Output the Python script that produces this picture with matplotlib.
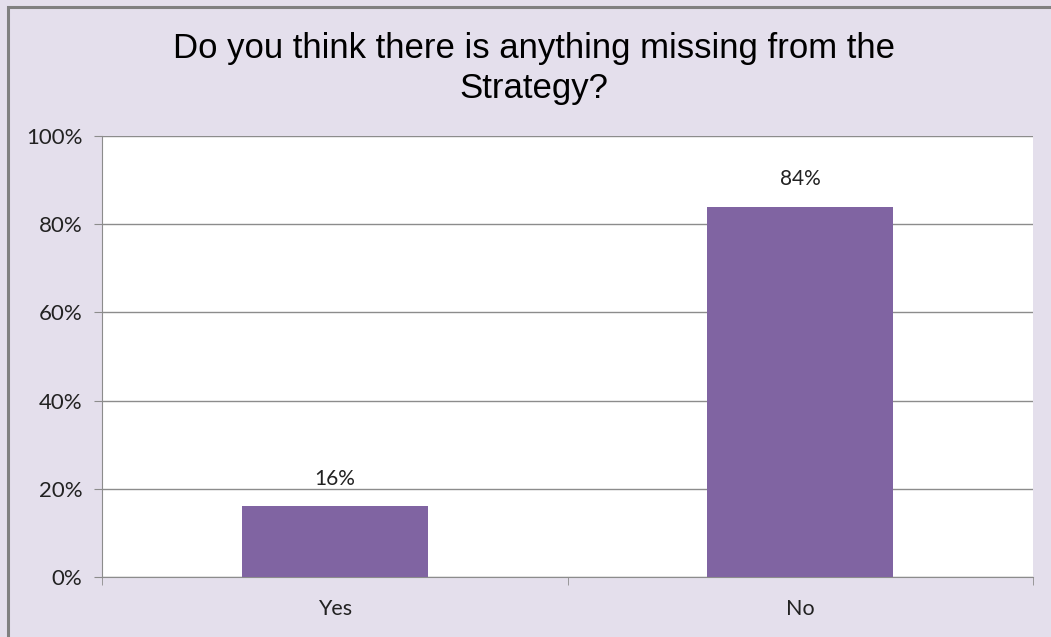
import matplotlib
matplotlib.use("Agg")
import matplotlib.pyplot as plt
from matplotlib.patches import Rectangle

categories = ["Yes", "No"]
values = [16, 84]
labels = ["16%", "84%"]
yticks = [0, 20, 40, 60, 80, 100]

bg = "#E4DFEC"
bar_color = "#8064A2"
grid_color = "#8C8C8C"

fig = plt.figure(figsize=(10.51, 6.37), dpi=100, facecolor=bg)
# border at top/left of the chart area
fig.add_artist(Rectangle((7.5 / 1051, -0.1), 1.2, 1.1 - 7 / 637, transform=fig.transFigure,
                         fill=False, edgecolor="#808080", linewidth=2.2))

ax = fig.add_axes([102 / 1051, 1 - 577 / 637, (1033 - 102) / 1051, (577 - 136) / 637])
ax.set_facecolor("white")

x = range(len(categories))
ax.bar(x, values, width=0.4, color=bar_color, zorder=3)
for i, v in enumerate(values):
    ax.text(i, v + 4, labels[i], ha="center", va="bottom", fontsize=15,
            family="Lato", color="#222222")

ax.set_xlim(-0.5, 1.5)
ax.set_ylim(0, 100)
ax.set_yticks(yticks)
ax.set_yticklabels([f"{t}%" for t in yticks], family="Lato", fontsize=16, color="#222222")
ax.yaxis.grid(True, color=grid_color, linewidth=1, zorder=0)
ax.set_xticks([0, 1])
ax.set_xticklabels(categories, family="Lato", fontsize=15.5, color="#222222")
ax.set_xticks([-0.5, 0.5, 1.5], minor=True)
ax.tick_params(axis="x", which="major", length=0, pad=16)
ax.tick_params(axis="x", which="minor", length=6, color=grid_color, direction="out")
ax.tick_params(axis="y", length=6, color=grid_color, direction="out", pad=8)

for side in ["top", "right"]:
    ax.spines[side].set_visible(False)
for side in ["left", "bottom"]:
    ax.spines[side].set_color(grid_color)

fig.text(534 / 1051, 1 - 58 / 637, "Do you think there is anything missing from the",
         ha="center", va="baseline", fontsize=25, family="Liberation Sans", color="black")
fig.text(534 / 1051, 1 - 98 / 637, "Strategy?",
         ha="center", va="baseline", fontsize=25, family="Liberation Sans", color="black")

fig.savefig("out.png", dpi=100, facecolor=bg)
